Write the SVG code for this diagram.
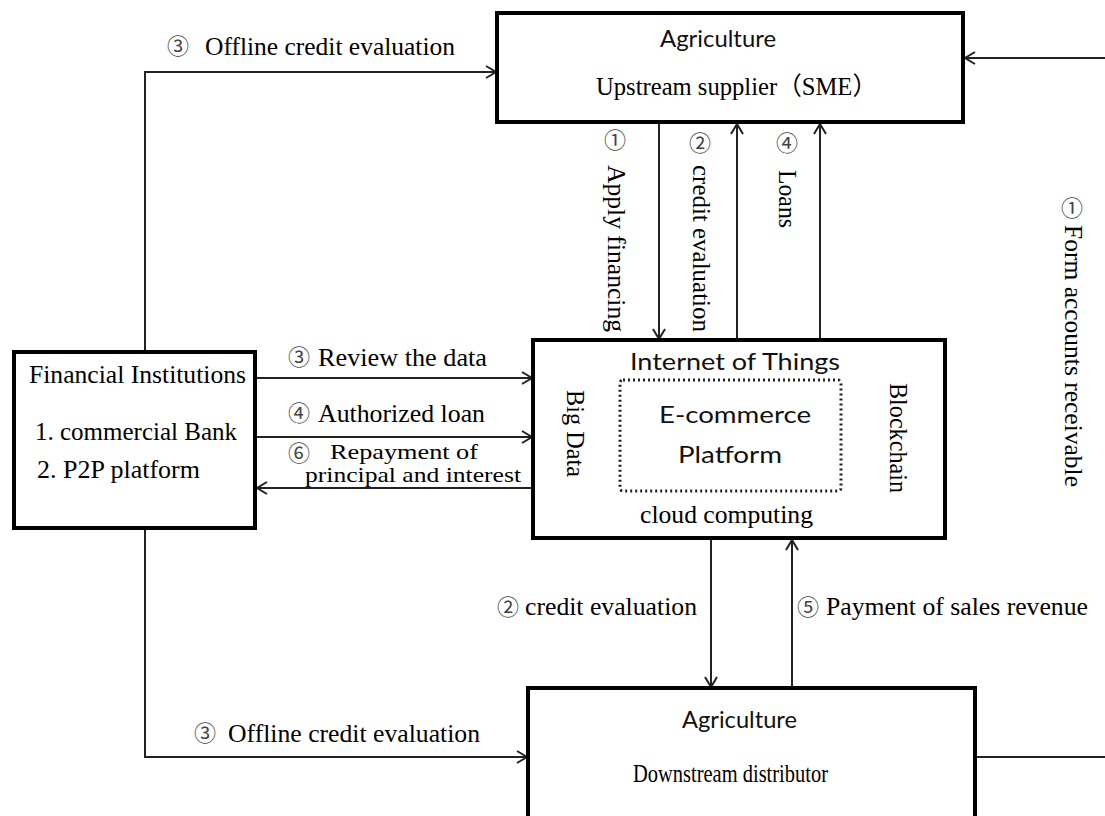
<svg xmlns="http://www.w3.org/2000/svg" width="1105" height="816" viewBox="0 0 1105 816">
<style>
.box{fill:#fff;stroke:#000;stroke-width:4}
.dot{fill:none;stroke:#222;stroke-width:3;stroke-dasharray:2 3}
.ln{fill:none;stroke:#222;stroke-width:2}
.serif{font-family:"Liberation Serif","Noto Sans CJK SC",serif;font-size:25px;fill:#000}
.sm{font-size:22px}
.sans{font-family:"Lato","Liberation Sans",sans-serif;font-size:23px;fill:#111}
.num{font-family:"Noto Sans CJK SC","DejaVu Sans",sans-serif;font-size:22px;fill:#444;text-anchor:middle}
</style>
<defs>
<marker id="ah" markerUnits="userSpaceOnUse" markerWidth="14" markerHeight="14" refX="11" refY="7" orient="auto">
<path d="M1,1 L11,7 L1,13" fill="none" stroke="#222" stroke-width="2"/>
</marker>
</defs>
<rect width="1105" height="816" fill="#fff"/>

<g id="connectors">
<line class="ln" x1="1105" y1="58" x2="965" y2="58" marker-end="url(#ah)"/>
<polyline class="ln" points="145,352 145,72 496,72" marker-end="url(#ah)"/>
<polyline class="ln" points="145,528 145,757 527,757" marker-end="url(#ah)"/>
<line class="ln" x1="255" y1="378" x2="532" y2="378" marker-end="url(#ah)"/>
<line class="ln" x1="255" y1="437" x2="532" y2="437" marker-end="url(#ah)"/>
<line class="ln" x1="533" y1="488" x2="257" y2="488" marker-end="url(#ah)"/>
<line class="ln" x1="659" y1="122" x2="659" y2="339" marker-end="url(#ah)"/>
<line class="ln" x1="737" y1="340" x2="737" y2="124" marker-end="url(#ah)"/>
<line class="ln" x1="820" y1="340" x2="820" y2="124" marker-end="url(#ah)"/>
<line class="ln" x1="711" y1="538" x2="711" y2="687" marker-end="url(#ah)"/>
<line class="ln" x1="792" y1="688" x2="792" y2="540" marker-end="url(#ah)"/>
<line class="ln" x1="975" y1="757" x2="1105" y2="757"/>

<text class="num" x="178" y="54">③</text>
<text class="serif" x="205" y="55" textLength="250" lengthAdjust="spacingAndGlyphs">Offline credit evaluation</text>
<text class="num" x="205" y="741">③</text>
<text class="serif" x="228" y="742" textLength="252" lengthAdjust="spacingAndGlyphs">Offline credit evaluation</text>

<text class="num" x="299" y="365">③</text>
<text class="serif" x="318" y="366" textLength="169" lengthAdjust="spacingAndGlyphs">Review the data</text>
<text class="num" x="299" y="421">④</text>
<text class="serif" x="318" y="422" textLength="167" lengthAdjust="spacingAndGlyphs">Authorized loan</text>
<text class="num" x="299" y="461">⑥</text>
<text class="serif sm" x="330" y="459" textLength="148" lengthAdjust="spacingAndGlyphs">Repayment of</text>
<text class="serif sm" x="305" y="482" textLength="216" lengthAdjust="spacingAndGlyphs">principal and interest</text>

<text class="num" x="615" y="148">①</text>
<text class="serif" transform="translate(608,165) rotate(90)" textLength="167" lengthAdjust="spacingAndGlyphs">Apply financing</text>
<text class="num" x="700" y="151">②</text>
<text class="serif" transform="translate(693,165) rotate(90)" textLength="167" lengthAdjust="spacingAndGlyphs">credit evaluation</text>
<text class="num" x="787" y="151">④</text>
<text class="serif" transform="translate(779,170) rotate(90)" textLength="58" lengthAdjust="spacingAndGlyphs">Loans</text>
<text class="num" x="1072" y="216">①</text>
<text class="serif" transform="translate(1065,225) rotate(90)" textLength="262" lengthAdjust="spacingAndGlyphs">Form accounts receivable</text>

<text class="num" x="508" y="615">②</text>
<text class="serif" x="525" y="615" textLength="172" lengthAdjust="spacingAndGlyphs">credit evaluation</text>
<text class="num" x="808" y="615">⑤</text>
<text class="serif" x="826" y="615" textLength="262" lengthAdjust="spacingAndGlyphs">Payment of sales revenue</text>
</g>

<g id="upstream">
<rect class="box" x="497" y="13" width="466" height="109"/>
<text class="sans" x="660" y="47" textLength="116" lengthAdjust="spacingAndGlyphs">Agriculture</text>
<text class="serif" x="596" y="95" textLength="281" lengthAdjust="spacingAndGlyphs">Upstream supplier（SME）</text>
</g>

<g id="financial">
<rect class="box" x="14" y="352" width="241" height="176"/>
<text class="serif" x="29" y="383" textLength="217" lengthAdjust="spacingAndGlyphs">Financial Institutions</text>
<text class="serif" x="35" y="440" textLength="202" lengthAdjust="spacingAndGlyphs">1. commercial Bank</text>
<text class="serif" x="37" y="478" textLength="163" lengthAdjust="spacingAndGlyphs">2. P2P platform</text>
</g>

<g id="platform">
<rect class="box" x="533" y="340" width="412" height="198"/>
<text class="sans" x="630" y="370" textLength="210" lengthAdjust="spacingAndGlyphs">Internet of Things</text>
<rect class="dot" x="620" y="380" width="221" height="111" rx="3"/>
<text class="sans" x="659" y="423" textLength="152" lengthAdjust="spacingAndGlyphs">E-commerce</text>
<text class="sans" x="678" y="463" textLength="104" lengthAdjust="spacingAndGlyphs">Platform</text>
<text class="serif" x="640" y="523" textLength="173" lengthAdjust="spacingAndGlyphs">cloud computing</text>
<text class="serif" transform="translate(567,390) rotate(90)" textLength="87" lengthAdjust="spacingAndGlyphs">Big Data</text>
<text class="serif" transform="translate(890,383) rotate(90)" textLength="110" lengthAdjust="spacingAndGlyphs">Blockchain</text>
</g>

<g id="downstream">
<rect class="box" x="528" y="688" width="447" height="140"/>
<text class="sans" x="682" y="728" textLength="115" lengthAdjust="spacingAndGlyphs">Agriculture</text>
<text class="serif" x="633" y="782" textLength="195" lengthAdjust="spacingAndGlyphs">Downstream distributor</text>
</g>
</svg>
